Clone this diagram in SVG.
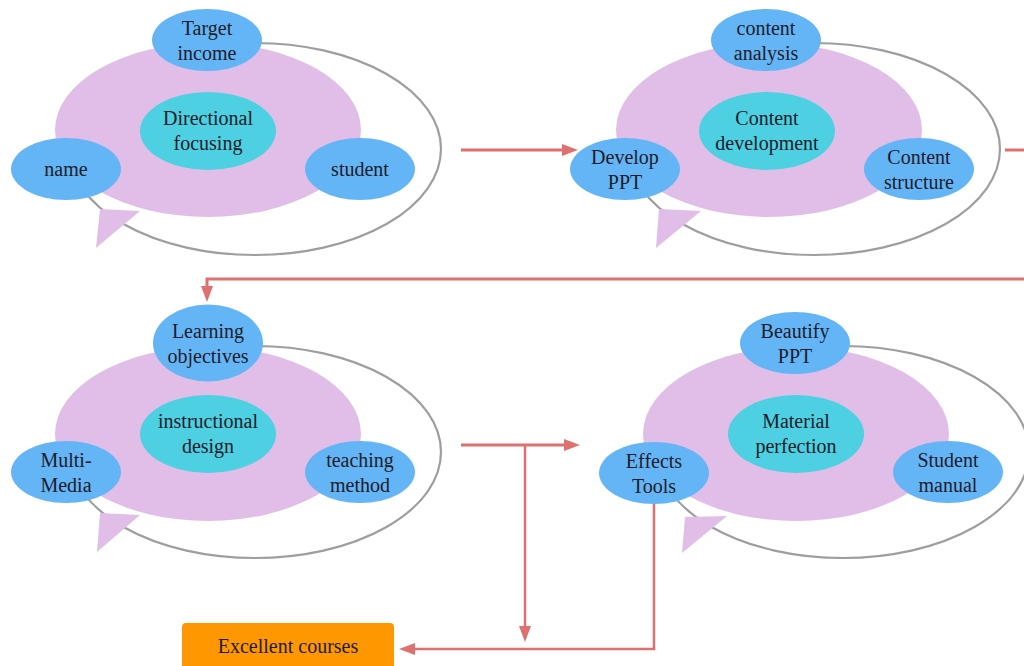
<svg xmlns="http://www.w3.org/2000/svg" width="1024" height="666" viewBox="0 0 1024 666">
<style>
.ring{fill:none;stroke:#9e9e9e;stroke-width:2.2}
.bg{fill:#E1BEE7}
.tail{fill:#E1BEE7}
.blue{fill:#64B5F6}
.cyan{fill:#4DD0E1}
.t{font-family:"Liberation Serif","Times New Roman",serif;font-size:20px;fill:#1c1c2a;text-anchor:middle;dominant-baseline:central}
.con{fill:none;stroke:#E06F6F;stroke-width:3}
.con2{fill:none;stroke:#E06F6F;stroke-width:2.5}
</style>
<defs>
<marker id="ah" viewBox="0 0 16 12" refX="4" refY="6" markerWidth="16" markerHeight="12" markerUnits="userSpaceOnUse" orient="auto">
<path d="M0,0 L16,6 L0,12 z" fill="#E06F6F"/>
</marker>
</defs>
<rect width="1024" height="666" fill="#ffffff"/>

<g id="cluster-directional" transform="translate(0,0)">
<ellipse class="ring" cx="255" cy="149" rx="186" ry="106"/>
<ellipse class="bg" cx="208" cy="130" rx="153" ry="87"/>
<polygon class="tail" points="100,209 140,211 96,248"/>
<g id="node-target-income"><ellipse class="blue" cx="207" cy="40" rx="55" ry="31"/><text class="t" x="207" y="28">Target</text><text class="t" x="207" y="53">income</text></g>
<g id="node-name"><ellipse class="blue" cx="66" cy="169" rx="55" ry="31"/><text class="t" x="66" y="169">name</text></g>
<g id="node-student"><ellipse class="blue" cx="360" cy="169" rx="55" ry="31"/><text class="t" x="360" y="169">student</text></g>
<g id="node-directional-focusing"><ellipse class="cyan" cx="208" cy="131" rx="68" ry="39"/><text class="t" x="208" y="118">Directional</text><text class="t" x="208" y="143">focusing</text></g>
</g>

<g id="cluster-content" transform="translate(559,0)">
<ellipse class="ring" cx="255" cy="149" rx="186" ry="106"/>
<ellipse class="bg" cx="210" cy="130" rx="153" ry="87"/>
<polygon class="tail" points="100,209 142,211 97,248"/>
<g id="node-content-analysis"><ellipse class="blue" cx="207" cy="40" rx="55" ry="31"/><text class="t" x="207" y="28">content</text><text class="t" x="207" y="53">analysis</text></g>
<g id="node-develop-ppt"><ellipse class="blue" cx="66" cy="169" rx="55" ry="31"/><text class="t" x="66" y="157">Develop</text><text class="t" x="66" y="182">PPT</text></g>
<g id="node-content-structure"><ellipse class="blue" cx="360" cy="169" rx="55" ry="31"/><text class="t" x="360" y="157">Content</text><text class="t" x="360" y="182">structure</text></g>
<g id="node-content-development"><ellipse class="cyan" cx="208" cy="131" rx="68" ry="39"/><text class="t" x="208" y="118">Content</text><text class="t" x="208" y="143">development</text></g>
</g>

<g id="cluster-instructional" transform="translate(0,303)">
<ellipse class="ring" cx="255" cy="149" rx="186" ry="106"/>
<ellipse class="bg" cx="208" cy="131" rx="153" ry="87"/>
<polygon class="tail" points="100,210 140,212 97,249"/>
<g id="node-learning-objectives"><ellipse class="blue" cx="208" cy="40" rx="55" ry="38.5"/><text class="t" x="208" y="28">Learning</text><text class="t" x="208" y="53">objectives</text></g>
<g id="node-multi-media"><ellipse class="blue" cx="66" cy="169" rx="55" ry="31"/><text class="t" x="66" y="157">Multi-</text><text class="t" x="66" y="182">Media</text></g>
<g id="node-teaching-method"><ellipse class="blue" cx="360" cy="169" rx="55" ry="31"/><text class="t" x="360" y="157">teaching</text><text class="t" x="360" y="182">method</text></g>
<g id="node-instructional-design"><ellipse class="cyan" cx="208" cy="131" rx="68" ry="39"/><text class="t" x="208" y="118">instructional</text><text class="t" x="208" y="143">design</text></g>
</g>

<g id="cluster-material" transform="translate(588,303)">
<ellipse class="ring" cx="255" cy="149" rx="186" ry="106"/>
<ellipse class="bg" cx="208" cy="131" rx="153" ry="87"/>
<polygon class="tail" points="97,214 139,213 94,250"/>
<g id="node-beautify-ppt"><ellipse class="blue" cx="207" cy="40" rx="55" ry="31"/><text class="t" x="207" y="28">Beautify</text><text class="t" x="207" y="53">PPT</text></g>
<g id="node-effects-tools"><ellipse class="blue" cx="66" cy="170" rx="55" ry="31"/><text class="t" x="66" y="158">Effects</text><text class="t" x="66" y="183">Tools</text></g>
<g id="node-student-manual"><ellipse class="blue" cx="360" cy="169" rx="55" ry="31"/><text class="t" x="360" y="157">Student</text><text class="t" x="360" y="182">manual</text></g>
<g id="node-material-perfection"><ellipse class="cyan" cx="208" cy="131" rx="68" ry="39"/><text class="t" x="208" y="118">Material</text><text class="t" x="208" y="143">perfection</text></g>
</g>

<g id="node-excellent-courses">
<rect x="182" y="623" width="212" height="52" rx="4" fill="#FF9800"/>
<text class="t" x="288" y="646">Excellent courses</text>
</g>

<g id="connectors">
<path class="con" d="M461,150 H566" marker-end="url(#ah)"/>
<path class="con" d="M1005,150 H1030"/>
<path class="con" d="M1030,279 H207 V290" marker-end="url(#ah)"/>
<path class="con" d="M461,445 H568" marker-end="url(#ah)"/>
<path class="con2" d="M525,445 V630" marker-end="url(#ah)"/>
<path class="con2" d="M654,504 V649 H411" marker-end="url(#ah)"/>
</g>
</svg>
